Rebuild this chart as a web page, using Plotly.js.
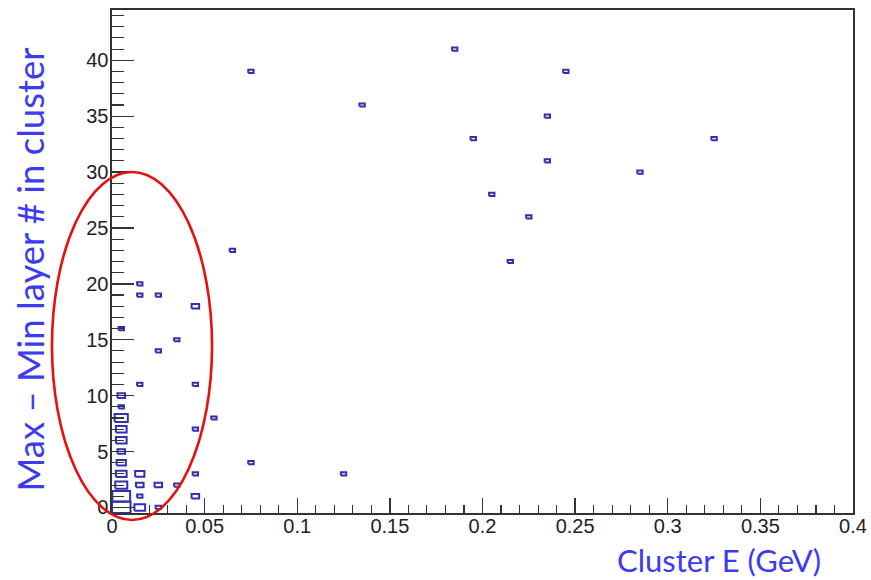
<!DOCTYPE html>
<html>
<head>
<meta charset="utf-8">
<script src="https://cdn.plot.ly/plotly-3.0.1.min.js"></script>
<style>
  html, body { margin: 0; padding: 0; background: #fff; }
  #chart { width: 871px; height: 580px; }
</style>
</head>
<body>
<div id="chart"></div>
<script>
// 2D histogram of clusters: energy (GeV) vs. layer span, drawn as boxes
// whose side scales with the square root of the bin content.
const binCenterE = [
  0.185, 0.075, 0.245, 0.135, 0.235, 0.195, 0.325, 0.235, 0.285, 0.205,
  0.225, 0.065, 0.215, 0.015, 0.015, 0.025, 0.045, 0.005, 0.035, 0.025,
  0.015, 0.045, 0.005, 0.005, 0.005, 0.055, 0.005, 0.045, 0.005, 0.005,
  0.005, 0.075, 0.005, 0.015, 0.045, 0.125, 0.005, 0.015, 0.025, 0.035,
  0.005, 0.015, 0.045, 0.005, 0.015, 0.025
];
const binCenterLayers = [
  41, 39, 39, 36, 35, 33, 33, 31, 30, 28,
  26, 23, 22, 20, 19, 19, 18, 16, 15, 14,
  11, 11, 10, 9, 8, 8, 7, 7, 6, 5,
  4, 4, 3, 3, 3, 3, 2, 2, 2, 2,
  1, 1, 1, 0, 0, 0
];
const binCounts = [
  1, 1, 1, 1, 1, 1, 1, 1, 1, 1,
  1, 1, 1, 1, 1, 1, 2, 1, 1, 1,
  1, 1, 2, 1, 6, 1, 4, 1, 4, 2,
  3, 1, 4, 3, 1, 1, 5, 2, 2, 1,
  11, 1, 2, 12, 4, 1
];

const xTitle = 'Cluster E (GeV)';
const yTitle = 'Max \u2013 Min layer # in cluster';

const binWidthE = 0.01;
const binWidthLayers = 1;

// Build one closed outline per filled bin, separated by gaps.
const maxCount = Math.max(...binCounts);
const boxX = [], boxY = [];
binCenterE.forEach((xc, i) => {
  const yc = binCenterLayers[i];
  const r = Math.sqrt(binCounts[i] / maxCount);
  const hw = 0.5 * binWidthE * r;
  const hh = 0.5 * binWidthLayers * r;
  boxX.push(xc - hw, xc + hw, xc + hw, xc - hw, xc - hw, null);
  boxY.push(yc - hh, yc - hh, yc + hh, yc + hh, yc - hh, null);
});

const tickFont = { family: 'Liberation Sans, Arial, sans-serif', size: 20, color: '#1e1e1e' };
const titleColor = '#3b3bf2';

const data = [{
  type: 'scatter',
  mode: 'lines',
  x: boxX,
  y: boxY,
  line: { color: '#3030b0', width: 2 },
  connectgaps: false,
  hoverinfo: 'skip',
  showlegend: false
}];

const layout = {
  width: 871,
  height: 580,
  margin: { l: 112, r: 18, t: 10, b: 67 },
  paper_bgcolor: '#fff',
  plot_bgcolor: '#fff',
  showlegend: false,
  xaxis: {
    range: [0, 0.4],
    dtick: 0.05,
    tick0: 0,
    ticks: 'inside',
    ticklen: 15,
    tickwidth: 1.3,
    tickcolor: '#333',
    minor: { dtick: 0.01, ticks: 'inside', ticklen: 8, tickwidth: 1.1, tickcolor: '#333', showgrid: false },
    showgrid: false,
    zeroline: false,
    showline: true,
    linecolor: '#333',
    linewidth: 1.6,
    mirror: true,
    tickfont: tickFont,
    ticklabelstandoff: -6,
    fixedrange: true
  },
  yaxis: {
    range: [-0.5, 44.5],
    dtick: 5,
    tick0: 0,
    ticks: 'inside',
    ticklen: 22,
    tickwidth: 1.3,
    tickcolor: '#333',
    minor: { dtick: 1, ticks: 'inside', ticklen: 12, tickwidth: 1.1, tickcolor: '#333', showgrid: false },
    showgrid: false,
    zeroline: false,
    showline: true,
    linecolor: '#333',
    linewidth: 1.6,
    mirror: true,
    tickfont: tickFont,
    ticklabelstandoff: -2,
    fixedrange: true
  },
  annotations: [
    {
      text: yTitle,
      xref: 'paper', yref: 'paper',
      x: -0.110, y: 0.485,
      xanchor: 'center', yanchor: 'middle',
      textangle: -90,
      showarrow: false,
      font: { family: 'Lato, Open Sans, sans-serif', size: 36.5, color: titleColor }
    },
    {
      text: xTitle,
      xref: 'paper', yref: 'paper',
      x: 0.958, y: -0.0934,
      xanchor: 'right', yanchor: 'middle',
      borderpad: 0,
      showarrow: false,
      font: { family: 'Lato, Open Sans, sans-serif', size: 31, color: titleColor }
    }
  ],
  shapes: [
    {
      // highlight of the low-energy, low-span population
      type: 'circle',
      xref: 'paper', yref: 'paper',
      x0: -0.081, x1: 0.135,
      y0: -0.0139, y1: 0.678,
      line: { color: '#e61010', width: 2.6 },
      fillcolor: 'rgba(0,0,0,0)',
      layer: 'above'
    }
  ]
};

Plotly.newPlot('chart', data, layout, { displayModeBar: false, staticPlot: true });
</script>
</body>
</html>
